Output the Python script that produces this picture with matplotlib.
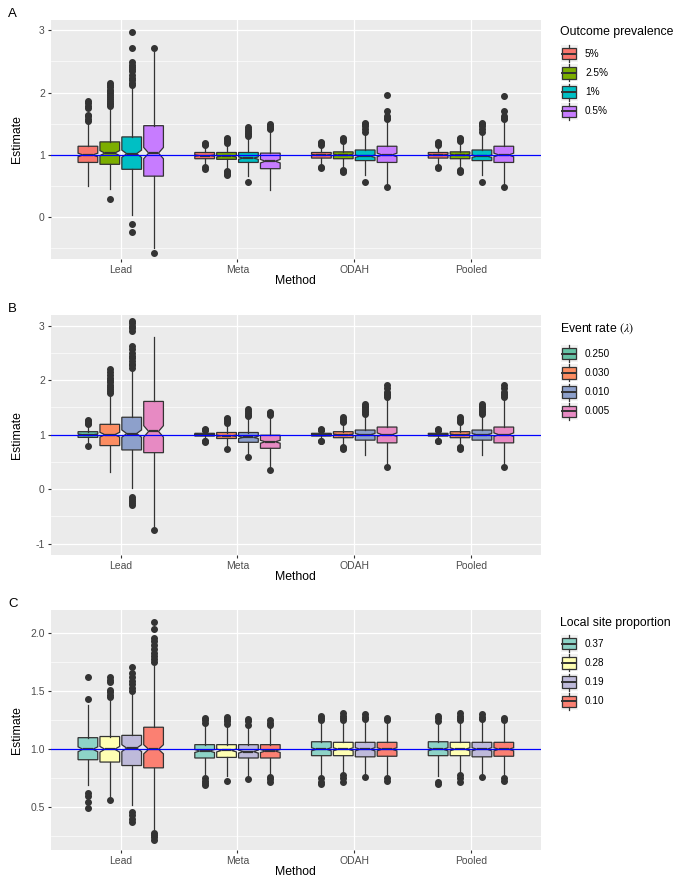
import numpy as np
import matplotlib.pyplot as plt
import matplotlib.patches as mpatches
from matplotlib.legend_handler import HandlerBase
from matplotlib.lines import Line2D

plt.rcParams['font.family'] = ['Liberation Sans', 'DejaVu Sans']
plt.rcParams['mathtext.fontset'] = 'stix'

methods = ['Lead', 'Meta', 'ODAH', 'Pooled']
n_sim = 200  # replicates per box, only used for the notch width

# ---- panel A : outcome prevalence ----
a_levels = ['5%', '2.5%', '1%', '0.5%']
a_colors = ['#F8766D', '#7CAE00', '#00BFC4', '#C77CFF']
a_q1 = [[0.88, 0.85, 0.77, 0.66], [0.94, 0.93, 0.88, 0.78], [0.95, 0.94, 0.91, 0.88], [0.95, 0.94, 0.91, 0.88]]
a_med = [[1.00, 1.03, 1.02, 1.03], [0.99, 0.98, 0.95, 0.90], [1.00, 1.00, 0.98, 1.00], [1.00, 1.00, 0.98, 1.00]]
a_q3 = [[1.14, 1.21, 1.29, 1.47], [1.04, 1.04, 1.04, 1.03], [1.04, 1.05, 1.08, 1.14], [1.04, 1.05, 1.08, 1.14]]
a_lo = [[0.50, 0.45, 0.04, -0.50], [0.84, 0.78, 0.66, 0.44], [0.85, 0.79, 0.68, 0.50], [0.85, 0.79, 0.68, 0.50]]
a_hi = [[1.52, 1.74, 2.08, 2.66], [1.14, 1.17, 1.27, 1.38], [1.14, 1.20, 1.33, 1.54], [1.14, 1.20, 1.33, 1.54]]
a_out = [
    [[1.55, 1.58, 1.62, 1.64, 1.76, 1.79, 1.83, 1.87],
     [1.78, 1.81, 1.84, 1.87, 1.90, 1.93, 1.96, 1.99, 2.02, 2.05, 2.09, 2.13, 2.16, 0.29],
     [2.12, 2.16, 2.20, 2.24, 2.28, 2.35, 2.38, 2.41, 2.45, 2.49, 2.71, 2.97, -0.11, -0.24],
     [2.71, -0.57]],
    [[1.16, 1.18, 1.20, 0.78, 0.80], [1.19, 1.22, 1.25, 1.27, 0.68, 0.70, 0.72, 0.74],
     [1.30, 1.33, 1.35, 1.38, 1.42, 1.45, 0.56], [1.41, 1.43, 1.45, 1.47, 1.49]],
    [[1.16, 1.19, 1.21, 0.79, 0.81], [1.22, 1.25, 1.28, 0.72, 0.74, 0.76],
     [1.37, 1.42, 1.46, 1.49, 1.52, 0.56], [1.57, 1.60, 1.63, 1.70, 1.96, 0.48]],
    [[1.16, 1.19, 1.21, 0.79, 0.81], [1.22, 1.25, 1.28, 0.72, 0.74, 0.76],
     [1.37, 1.42, 1.46, 1.49, 1.52, 0.56], [1.57, 1.60, 1.63, 1.70, 1.94, 0.48]],
]

# ---- panel B : event rate ----
b_levels = ['0.250', '0.030', '0.010', '0.005']
b_colors = ['#66C2A5', '#FC8D62', '#8DA0CB', '#E78AC3']
b_q1 = [[0.95, 0.80, 0.72, 0.67], [0.975, 0.93, 0.86, 0.75], [0.975, 0.945, 0.90, 0.85], [0.975, 0.945, 0.90, 0.85]]
b_med = [[1.00, 1.00, 1.02, 1.06], [1.00, 0.98, 0.95, 0.87], [1.00, 1.00, 1.00, 1.00], [1.00, 1.00, 1.00, 1.00]]
b_q3 = [[1.055, 1.19, 1.32, 1.61], [1.025, 1.04, 1.04, 0.99], [1.025, 1.055, 1.085, 1.14], [1.025, 1.055, 1.085, 1.14]]
b_lo = [[0.85, 0.32, 0.03, -0.72], [0.94, 0.80, 0.62, 0.38], [0.94, 0.80, 0.63, 0.44], [0.94, 0.80, 0.63, 0.44]]
b_hi = [[1.17, 1.74, 2.20, 2.80], [1.06, 1.19, 1.30, 1.34], [1.06, 1.20, 1.35, 1.65], [1.06, 1.20, 1.35, 1.65]]
b_out = [
    [[1.20, 1.22, 1.25, 1.27, 0.79],
     [1.77, 1.80, 1.84, 1.88, 1.92, 1.96, 2.00, 2.04, 2.10, 2.15, 2.20],
     [2.23, 2.27, 2.30, 2.35, 2.40, 2.45, 2.50, 2.58, 2.62, 2.90, 2.95, 3.00, 3.05, 3.09,
      -0.14, -0.18, -0.22, -0.26, -0.29],
     [-0.75]],
    [[1.08, 1.09, 1.10, 0.89, 0.88, 0.87], [1.22, 1.25, 1.28, 1.31, 0.74],
     [1.34, 1.37, 1.40, 1.44, 1.47, 0.59], [1.36, 1.39, 1.42, 0.35]],
    [[1.08, 1.09, 1.10, 0.89, 0.88], [1.23, 1.26, 1.29, 1.32, 0.73, 0.76, 0.78],
     [1.38, 1.41, 1.44, 1.47, 1.50, 1.53, 1.57], [1.69, 1.72, 1.75, 1.78, 1.85, 1.92, 0.41]],
    [[1.08, 1.09, 1.10, 0.89, 0.88], [1.23, 1.26, 1.29, 1.32, 0.73, 0.76, 0.78],
     [1.38, 1.41, 1.44, 1.47, 1.50, 1.53, 1.57], [1.69, 1.72, 1.75, 1.78, 1.85, 1.92, 0.41]],
]

# ---- panel C : local site proportion ----
c_levels = ['0.37', '0.28', '0.19', '0.10']
c_colors = ['#8DD3C7', '#FFFFB3', '#BEBADA', '#FB8072']
c_q1 = [[0.91, 0.89, 0.86, 0.84], [0.925, 0.93, 0.925, 0.925], [0.945, 0.945, 0.935, 0.94], [0.945, 0.945, 0.935, 0.94]]
c_med = [[1.00, 1.00, 1.01, 1.00], [0.985, 0.99, 0.98, 0.985], [1.00, 1.00, 1.00, 1.00], [1.00, 1.00, 1.00, 1.00]]
c_q3 = [[1.10, 1.11, 1.12, 1.19], [1.04, 1.04, 1.04, 1.04], [1.065, 1.06, 1.06, 1.06], [1.065, 1.06, 1.06, 1.06]]
c_lo = [[0.69, 0.59, 0.52, 0.31], [0.76, 0.77, 0.77, 0.77], [0.77, 0.79, 0.78, 0.78], [0.77, 0.79, 0.78, 0.78]]
c_hi = [[1.38, 1.42, 1.48, 1.72], [1.20, 1.20, 1.20, 1.20], [1.23, 1.23, 1.24, 1.23], [1.23, 1.23, 1.24, 1.23]]
c_out = [
    [[1.43, 1.62, 0.62, 0.60, 0.55, 0.49],
     [1.45, 1.47, 1.49, 1.51, 1.58, 1.60, 1.62, 0.56],
     [1.50, 1.53, 1.56, 1.59, 1.62, 1.66, 1.71, 0.46, 0.43, 0.40, 0.37],
     [1.75, 1.78, 1.80, 1.83, 1.86, 1.90, 1.93, 1.96, 2.04, 2.10, 0.28, 0.26, 0.24, 0.22]],
    [[1.23, 1.25, 1.27, 0.69, 0.71, 0.73, 0.75], [1.22, 1.24, 1.26, 1.28, 0.73],
     [1.21, 1.24, 1.26, 0.74], [1.21, 1.23, 1.25, 0.72, 0.74, 0.76]],
    [[1.25, 1.27, 1.29, 0.70, 0.72, 0.75], [1.25, 1.27, 1.29, 1.31, 0.72, 0.75, 0.78],
     [1.26, 1.28, 1.30, 0.76], [1.25, 1.27, 0.73, 0.75]],
    [[1.24, 1.27, 1.29, 0.70, 0.72], [1.25, 1.27, 1.29, 1.31, 0.72, 0.75, 0.78],
     [1.26, 1.28, 1.30, 0.76], [1.25, 1.27, 0.73, 0.75]],
]

DARK = '#333333'
W, H = 685, 886  # figure size in pixels, used to place things by pixel


class BoxKey(HandlerBase):
    # legend key drawn like ggplot's boxplot key
    def create_artists(self, legend, orig, xd, yd, w, h, fontsize, trans):
        x0, y0 = -xd, -yd
        bg = mpatches.Rectangle((x0, y0), w, h, fc='#F2F2F2', ec='none', transform=trans)
        box = mpatches.Rectangle((x0 + 0.1 * w, y0 + 0.16 * h), 0.8 * w, 0.68 * h,
                                 fc=orig.get_facecolor(), ec=DARK, lw=0.9, transform=trans)
        top = Line2D([x0 + w / 2] * 2, [y0 + 0.84 * h, y0 + h], color=DARK, lw=0.9, transform=trans)
        bot = Line2D([x0 + w / 2] * 2, [y0, y0 + 0.16 * h], color=DARK, lw=0.9, transform=trans)
        med = Line2D([x0 + 0.1 * w, x0 + 0.9 * w], [y0 + h / 2] * 2, color=DARK, lw=1.4, transform=trans)
        return [bg, box, top, bot, med]


def panel(ax, q1, med, q3, lo, hi, out, colors, levels, title, letter,
          ylim, majors, minors, fmt, title_y, keys_top):
    ax.set_facecolor('#EBEBEB')
    for s in ax.spines.values():
        s.set_visible(False)
    step = 0.1875
    offs = (np.arange(4) - 1.5) * step
    stats, pos, cols = [], [], []
    for i in range(4):
        for j in range(4):
            iqr = q3[i][j] - q1[i][j]
            half = 1.58 * iqr / np.sqrt(n_sim)
            stats.append(dict(med=med[i][j], q1=q1[i][j], q3=q3[i][j],
                              whislo=lo[i][j], whishi=hi[i][j], fliers=out[i][j],
                              cilo=med[i][j] - half, cihi=med[i][j] + half))
            pos.append(i + 1 + offs[j])
            cols.append(colors[j])
    bp = ax.bxp(stats, positions=pos, widths=step * 0.9, shownotches=True,
                patch_artist=True, showcaps=False, manage_ticks=False,
                boxprops=dict(edgecolor=DARK, linewidth=0.9),
                whiskerprops=dict(color=DARK, linewidth=0.9),
                medianprops=dict(color=DARK, linewidth=1.6),
                flierprops=dict(marker='o', markerfacecolor=DARK, markeredgecolor=DARK,
                                markersize=4, linestyle='none'))
    for patch, c in zip(bp['boxes'], cols):
        patch.set_facecolor(c)
    ax.axhline(1, color='blue', lw=0.9, zorder=5)

    ax.set_xlim(0.4, 4.6)
    ax.set_ylim(*ylim)
    ax.set_xticks(range(1, 5))
    ax.set_xticklabels(methods)
    ax.set_yticks(majors)
    ax.set_yticklabels([fmt.format(v) for v in majors])
    ax.set_yticks(minors, minor=True)
    ax.tick_params(axis='y', which='minor', length=0)
    ax.tick_params(which='major', length=2.4, width=0.8, color=DARK,
                   labelcolor='#4D4D4D', labelsize=7.5, pad=1.8)
    ax.grid(which='major', color='white', lw=0.9)
    ax.grid(which='minor', axis='y', color='white', lw=0.45)
    ax.set_axisbelow(True)

    ax.set_xlabel('Method', fontsize=8.8)
    ax.xaxis.set_label_coords(0.5, -0.066)
    ax.xaxis.label.set_va('top')
    ax.set_ylabel('Estimate', fontsize=8.8)
    ax.yaxis.set_label_coords(-0.057, 0.5)

    fig = ax.figure
    pos_ax = ax.get_position()
    fig.text(8 / W, pos_ax.y1 + 6 / H, letter, fontsize=9.5, va='center', ha='left')

    # legend: title as text, keys as a legend underneath
    fig.text(560 / W, 1 - title_y / H, title, fontsize=8.8, va='center', ha='left')
    handles = [mpatches.Patch(facecolor=c) for c in colors]
    ax.legend(handles, levels, loc='upper left',
              bbox_to_anchor=(560.5 / W, 1 - keys_top / H), bbox_transform=fig.transFigure,
              frameon=False, fontsize=7.2,
              handler_map={mpatches.Patch: BoxKey()},
              handlelength=1.7, handleheight=2.25, labelspacing=0.22,
              handletextpad=0.75, borderpad=0, borderaxespad=0)


fig = plt.figure(figsize=(W / 100, H / 100), dpi=100)
ax_a = fig.add_axes([0.074, 0.7077, 0.7158, 0.2698])
ax_b = fig.add_axes([0.074, 0.3736, 0.7158, 0.2709])
ax_c = fig.add_axes([0.074, 0.0406, 0.7158, 0.2709])

panel(ax_a, a_q1, a_med, a_q3, a_lo, a_hi, a_out, a_colors, a_levels,
      'Outcome prevalence', 'A', (-0.669, 3.167), [0, 1, 2, 3], [-0.5, 0.5, 1.5, 2.5],
      '{:g}', 32, 45)
panel(ax_b, b_q1, b_med, b_q3, b_lo, b_hi, b_out, b_colors, b_levels,
      r'Event rate $(\lambda)$', 'B', (-1.207, 3.196), [-1, 0, 1, 2, 3],
      [-0.5, 0.5, 1.5, 2.5], '{:g}', 329, 345)
panel(ax_c, c_q1, c_med, c_q3, c_lo, c_hi, c_out, c_colors, c_levels,
      'Local site proportion', 'C', (0.132, 2.2), [0.5, 1.0, 1.5, 2.0],
      [0.25, 0.75, 1.25, 1.75], '{:.1f}', 623, 635)

fig.savefig('out.png', dpi=100)
